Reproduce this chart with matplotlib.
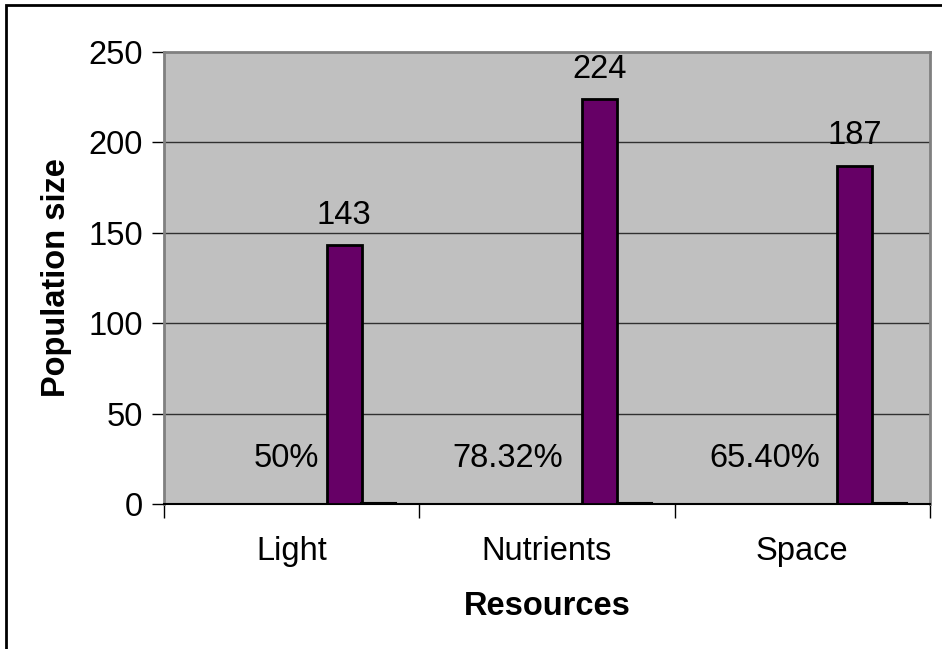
import numpy as np
import matplotlib
matplotlib.use("Agg")
import matplotlib.pyplot as plt
from matplotlib.patches import Rectangle

plt.rcParams['font.family'] = ['Liberation Sans', 'DejaVu Sans']

categories = ["Light", "Nutrients", "Space"]
population = [143, 224, 187]
fraction = [0.5, 0.7832, 0.654]
percent_labels = ["50%", "78.32%", "65.40%"]
percent_label_x = [-0.02, 0.847, 1.854]
percent_label_y = 25
yticks = [0, 50, 100, 150, 200, 250]

fs = 23.5
fig = plt.figure(figsize=(9.42, 6.49), dpi=100)
ax = fig.add_axes([164/942, 1 - 504/649, (930 - 164)/942, (504 - 52)/649])

# outer chart frame (runs past the right and bottom edge)
fig.patches.append(Rectangle((6/942, -0.1), 1.2, 1.1 - 5/649, transform=fig.transFigure,
                             fill=False, edgecolor='black', linewidth=2, zorder=0))

x = np.arange(len(categories))
w = 35/255.33
ax.set_facecolor('#C0C0C0')
bars = ax.bar(x + 0.205, population, w, color='#660066', edgecolor='black', linewidth=2, zorder=3)
ax.bar(x + 0.342, fraction, w, color='#C0C0C0', edgecolor='black', linewidth=1.5, zorder=3)

for b, v in zip(bars, population):
    ax.text(b.get_x() + b.get_width()/2, v + 8, str(v), ha='center', va='bottom', fontsize=fs)
for px, lab in zip(percent_label_x, percent_labels):
    ax.text(px, percent_label_y, lab, ha='center', va='center', fontsize=fs)

ax.set_xlim(-0.5, 2.5)
ax.set_ylim(0, 250)
ax.set_yticks(yticks)
ax.tick_params(axis='y', labelsize=fs, length=9, width=1, pad=6)
for g in yticks[1:-1]:
    ax.axhline(g, color='#303030', linewidth=1, zorder=1)

ax.set_xticks([-0.5, 0.5, 1.5, 2.5])
ax.set_xticklabels([])
ax.set_xticks(x, minor=True)
ax.set_xticklabels(categories, minor=True, fontsize=fs)
ax.tick_params(axis='x', which='major', length=10, width=1)
ax.tick_params(axis='x', which='minor', length=0, pad=23)

for s in ['top', 'right', 'left']:
    ax.spines[s].set_color('#808080')
    ax.spines[s].set_linewidth(2)
ax.spines['bottom'].set_color('black')
ax.spines['bottom'].set_linewidth(1.5)

ax.set_xlabel("Resources", fontsize=fs, fontweight='bold', labelpad=17)
ax.set_ylabel("Population size", fontsize=fs, fontweight='bold', labelpad=12)

fig.savefig("out.png", dpi=100)
